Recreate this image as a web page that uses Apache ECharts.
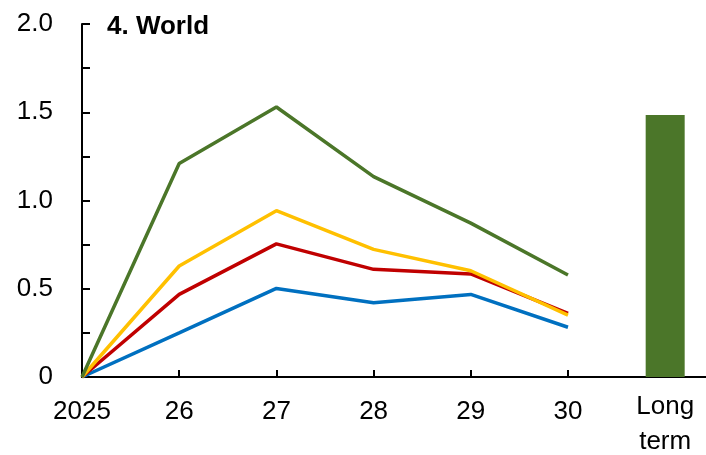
<!DOCTYPE html>
<html>
<head>
<meta charset="utf-8">
<script src="https://cdn.jsdelivr.net/npm/echarts@6/dist/echarts.min.js"></script>
<style>
    html, body { margin: 0; padding: 0; background: #fff; }
    #chart { width: 706px; height: 455px; }
</style>
</head>
<body>
<div id="chart"></div>
<script>
// categories along the x axis (2025 .. 30, then long term)
var categories = ["2025", "26", "27", "28", "29", "30", "Long\nterm"];

// scenario paths, 2025-30
var greenPath = [0, 1.21, 1.53, 1.135, 0.872, 0.578];
var yellowPath = [0, 0.629, 0.942, 0.723, 0.602, 0.351];
var redPath = [0, 0.468, 0.754, 0.61, 0.584, 0.361];
var bluePath = [0, 0.25, 0.502, 0.421, 0.468, 0.282];

// long term bar
var longTerm = [1.484];

var yTicks = [0, 0.5, 1.0, 1.5, 2.0];

var font = "'Liberation Sans', Arial, sans-serif";

function pairs(values) {
    return values.map(function (v, i) { return [i, v]; });
}

function lineSeries(values, color) {
    return {
        type: "line",
        data: pairs(values),
        symbol: "none",
        lineStyle: { color: color, width: 3.5 },
        itemStyle: { color: color },
    };
}

// one-line labels get a taller box so the two-line one sits a bit higher
function xLabel(v) {
    var lines = categories[Math.round(v)].split("\n");
    if (lines.length === 1) return "{s|" + lines[0] + "}";
    return lines.map(function (l) { return "{m|" + l + "}"; }).join("\n");
}

var chart = echarts.init(document.getElementById("chart"));

chart.setOption({
    animation: false,
    title: {
        text: "4. World",
        left: 102,
        top: 9,
        textStyle: {
            fontFamily: font,
            fontWeight: "bold",
            fontSize: 26,
            color: "#000",
        },
    },
    grid: { left: 82, right: 0, top: 24, bottom: 78, outerBoundsMode: "none" },
    xAxis: {
        type: "value",
        min: 0,
        max: 6.42,
        interval: 1,
        splitLine: { show: false },
        axisLine: { lineStyle: { color: "#000", width: 2 } },
        axisTick: {
            inside: true,
            length: 7,
            customValues: [1, 2, 3, 4, 5, 6],
            lineStyle: { color: "#000", width: 2 },
        },
        axisLabel: {
            customValues: [0, 1, 2, 3, 4, 5, 6],
            formatter: xLabel,
            margin: 12,
            color: "#000",
            fontFamily: font,
            fontSize: 26,
            rich: {
                s: { fontFamily: font, fontSize: 26, lineHeight: 46, color: "#000" },
                m: { fontFamily: font, fontSize: 26, lineHeight: 35, color: "#000" },
            },
        },
    },
    yAxis: {
        type: "value",
        min: 0,
        max: 2,
        interval: 0.5,
        splitLine: { show: false },
        axisLine: { show: true, lineStyle: { color: "#000", width: 2 } },
        axisTick: { inside: true, length: 8, lineStyle: { color: "#000", width: 2 } },
        minorTick: { show: true, splitNumber: 2, length: 8, lineStyle: { color: "#000", width: 2 } },
        axisLabel: {
            formatter: function (v) { return v === 0 ? "0" : v.toFixed(1); },
            customValues: yTicks,
            margin: 29,
            color: "#000",
            fontFamily: font,
            fontSize: 26,
        },
    },
    series: [
        {
            type: "bar",
            data: longTerm.map(function (v) { return [6, v]; }),
            barWidth: 39,
            itemStyle: { color: "#4B7629" },
            z: 1,
        },
        lineSeries(bluePath, "#0070C0"),
        lineSeries(redPath, "#C00000"),
        lineSeries(yellowPath, "#FFC000"),
        lineSeries(greenPath, "#4B7629"),
    ],
});
</script>
</body>
</html>
